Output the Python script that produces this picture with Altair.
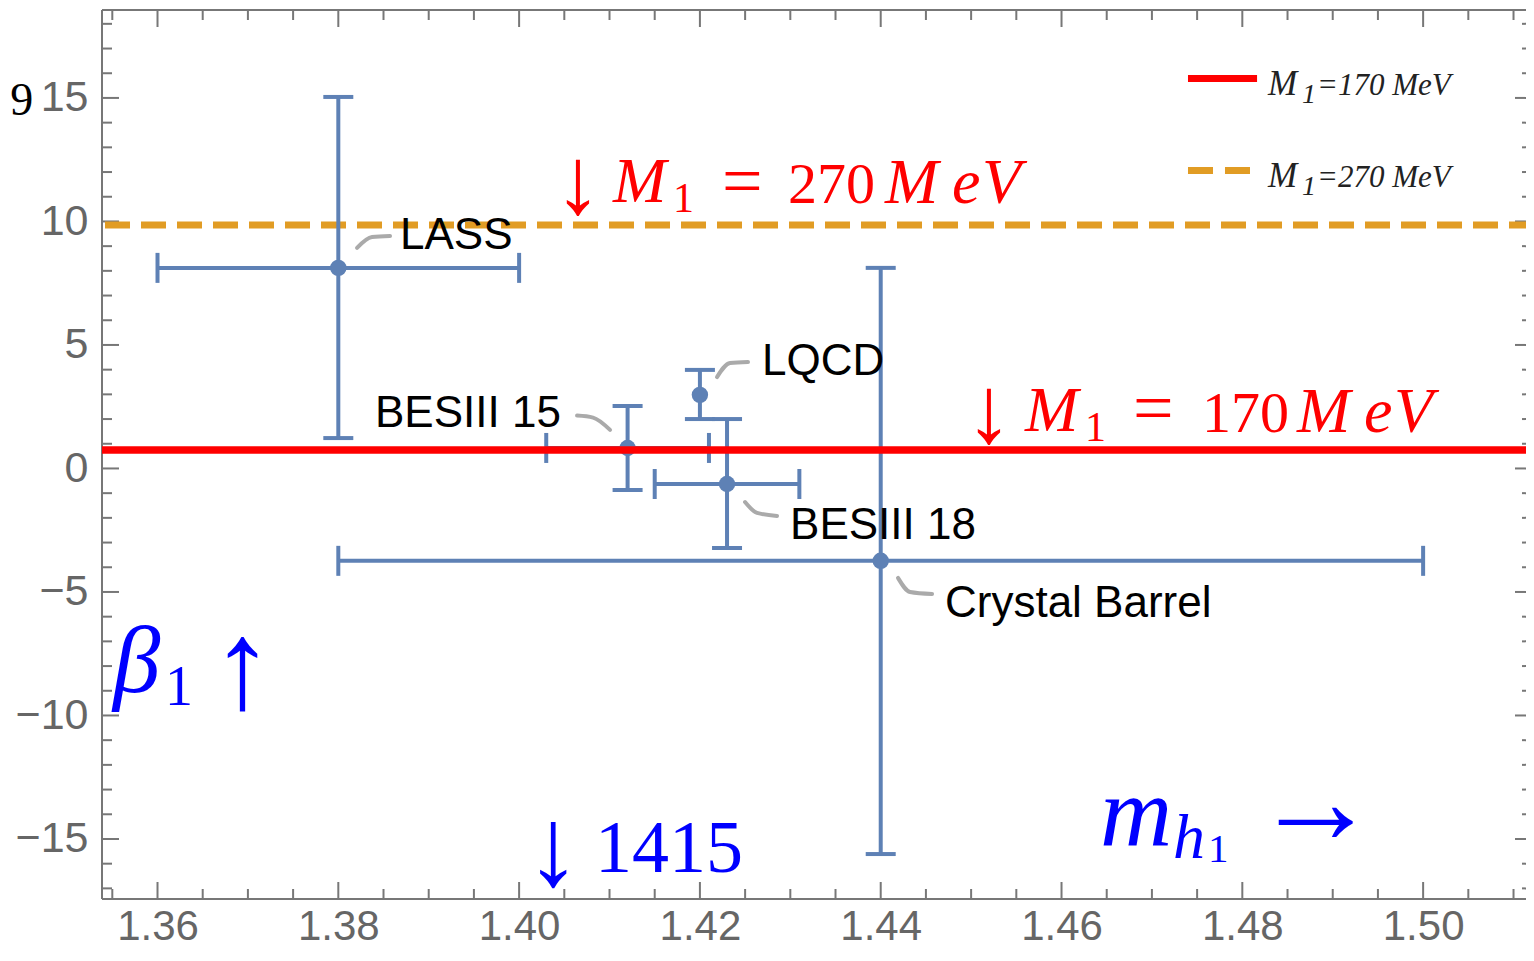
import altair as alt
import pandas as pd

# ---------------- data ----------------
labels = ["LASS", "BESIII 15", "LQCD", "BESIII 18", "Crystal Barrel"]
mass = [1.380, 1.412, 1.420, 1.423, 1.440]
mass_lo = [1.360, 1.403, None, 1.415, 1.380]
mass_hi = [1.400, 1.421, None, 1.431, 1.500]
beta = [8.12, 0.83, 2.98, -0.63, -3.74]
beta_lo = [1.23, -0.87, 2.00, -3.22, -15.61]
beta_hi = [15.04, 2.53, 3.99, 2.00, 8.12]

m170_level = [0.75]
m270_level = [9.86]

x_major = [1.36, 1.38, 1.40, 1.42, 1.44, 1.46, 1.48, 1.50]
x_minor = [1.355, 1.365, 1.370, 1.375, 1.385, 1.390, 1.395, 1.405, 1.410,
           1.415, 1.425, 1.430, 1.435, 1.445, 1.450, 1.455, 1.465, 1.470,
           1.475, 1.485, 1.490, 1.495, 1.505, 1.510]
y_major = [-15, -10, -5, 0, 5, 10, 15]
y_minor = [-17, -16, -14, -13, -12, -11, -9, -8, -7, -6, -4, -3, -2, -1,
           1, 2, 3, 4, 6, 7, 8, 9, 11, 12, 13, 14, 16, 17, 18]

# callout labels (left edge, baseline) in data units
callout_text = ["LASS", "LQCD", "BESIII 15", "BESIII 18", "Crystal Barrel"]
callout_x = [1.38683, 1.42687, 1.38406, 1.42997, 1.44711]
callout_y = [8.89, 3.79, 1.68, -2.85, -6.01]

# leader lines (3 points each)
leader_id = ["LASS"] * 3 + ["LQCD"] * 3 + ["B15"] * 3 + ["B18"] * 3 + ["CB"] * 3
leader_ord = [0, 1, 2] * 5
leader_x = [1.38207, 1.38373, 1.38572,
            1.42189, 1.42333, 1.42532,
            1.40641, 1.40818, 1.41006,
            1.42499, 1.42632, 1.42853,
            1.44191, 1.44324, 1.44568]
leader_y = [8.93, 9.37, 9.41,
            3.70, 4.27, 4.31,
            2.14, 2.06, 1.56,
            -1.36, -1.80, -1.92,
            -4.43, -5.00, -5.08]

# math annotations: text, x, y (left/baseline), font size, colour, italic?
ann_text = ["\u2193", "M", "1", "=", "270", "M", "e", "V",
            "\u2193", "M", "1", "=", "170", "M", "e", "V",
            "\u03b2", "1", "\u2191",
            "\u2193", "1415",
            "m", "h", "1", "\u2192",
            "9"]
ann_x = [1.40386, 1.41039, 1.41702, 1.42244, 1.42975, 1.44048, 1.44789, 1.45121,
         1.44933, 1.45596, 1.46260, 1.46791, 1.47554, 1.48605, 1.49346, 1.49678,
         1.35508, 1.36083, 1.36592,
         1.40065, 1.40840,
         1.46426, 1.47232, 1.47621, 1.48118,
         1.34372]
ann_y = [10.34, 10.79, 10.38, 10.67, 10.75, 10.75, 10.75, 10.75,
         1.07, 1.52, 1.11, 1.48, 1.48, 1.48, 1.48, 1.48,
         -9.05, -9.575, -9.70,
         -16.86, -16.34,
         -15.24, -15.77, -15.93, -15.16,
         14.31]
ann_size = [95, 64, 42, 72, 58, 64, 64, 64,
            95, 64, 42, 72, 58, 64, 64, 64,
            95, 56, 126,
            112, 74,
            100, 64, 41, 125,
            46]
ann_color = ["#ff0000"] * 16 + ["#0000ff"] * 9 + ["#000000"]
ann_italic = [False, True, False, False, False, True, True, True,
              False, True, False, False, False, True, True, True,
              True, False, False,
              False, False,
              True, True, False, False,
              False]

# legend
leg_line_x = [1.47399]
leg_line_x2 = [1.48163]
leg_red_y = [15.79]
leg_orange_y = [12.06]
leg_text = ["M", "1", "=170 MeV", "M", "1", "=270 MeV"]
leg_x = [1.48284, 1.48660, 1.48826, 1.48284, 1.48660, 1.48826]
leg_y = [15.12, 14.80, 15.12, 11.40, 11.07, 11.40]
leg_size = [35, 28, 31, 35, 28, 31]

# ---------------- layout ----------------
W, H = 1424, 889
BLUE = "#5E81B5"
ORANGE = "#E19C24"
FRAME = "#777777"

xs = alt.Scale(domain=[1.35386, 1.51138], nice=False, zero=False)
ys = alt.Scale(domain=[-17.43, 18.56], nice=False, zero=False)

xaxis = alt.Axis(values=x_major, format=".2f", tickSize=0, domain=False, grid=False,
                 labelFont="Liberation Sans", labelFontSize=42, labelColor="#666666",
                 labelPadding=7, labelOverlap=False, labelFlush=False, labelBound=False,
                 title=None)
yaxis = alt.Axis(values=y_major, tickSize=0, domain=False, grid=False,
                 labelFont="Liberation Sans", labelFontSize=43, labelColor="#666666",
                 labelPadding=14, labelOverlap=False, labelFlush=False, labelBound=False,
                 title=None)


def X(f):
    return alt.X(f, type="quantitative", scale=xs, axis=xaxis)


def Y(f):
    return alt.Y(f, type="quantitative", scale=ys, axis=yaxis)


pts = pd.DataFrame({"label": labels, "m": mass, "mlo": mass_lo, "mhi": mass_hi,
                    "b": beta, "blo": beta_lo, "bhi": beta_hi})
pts_x = pts.dropna(subset=["mlo", "mhi"])

tx_major = pd.DataFrame({"v": x_major})
tx_minor = pd.DataFrame({"v": x_minor})
ty_major = pd.DataFrame({"v": y_major})
ty_minor = pd.DataFrame({"v": y_minor})
one = pd.DataFrame({"a": [0]})

tick_layers = []
for df, ln in ((tx_major, 17), (tx_minor, 10)):
    tick_layers.append(alt.Chart(df).mark_rule(color=FRAME, strokeWidth=2).encode(
        x=X("v"), y=alt.value(H), y2=alt.value(H - ln)))
    tick_layers.append(alt.Chart(df).mark_rule(color=FRAME, strokeWidth=2).encode(
        x=X("v"), y=alt.value(0), y2=alt.value(ln)))
for df, ln in ((ty_major, 17), (ty_minor, 10)):
    tick_layers.append(alt.Chart(df).mark_rule(color=FRAME, strokeWidth=2).encode(
        y=Y("v"), x=alt.value(0), x2=alt.value(ln)))
    tick_layers.append(alt.Chart(df).mark_rule(color=FRAME, strokeWidth=2).encode(
        y=Y("v"), x=alt.value(W + 6 - ln), x2=alt.value(W + 6)))

frame = [
    alt.Chart(one).mark_rule(color=FRAME, strokeWidth=2).encode(
        x=alt.value(0), y=alt.value(0), y2=alt.value(H)),
    alt.Chart(one).mark_rule(color=FRAME, strokeWidth=2).encode(
        y=alt.value(0), x=alt.value(0), x2=alt.value(W)),
    alt.Chart(one).mark_rule(color=FRAME, strokeWidth=2).encode(
        y=alt.value(H), x=alt.value(0), x2=alt.value(W)),
]

orange_line = alt.Chart(pd.DataFrame({"v": m270_level})).mark_rule(
    color=ORANGE, strokeWidth=7, strokeDash=[25, 11], strokeDashOffset=8).encode(y=Y("v"))
red_line = alt.Chart(pd.DataFrame({"v": m170_level})).mark_rule(
    color="#ff0000", strokeWidth=7.5).encode(y=Y("v"))

BW = 4
ybars = alt.Chart(pts).mark_rule(color=BLUE, strokeWidth=BW).encode(
    x=X("m"), y=Y("blo"), y2="bhi")
xbars = alt.Chart(pts_x).mark_rule(color=BLUE, strokeWidth=BW).encode(
    y=Y("b"), x=X("mlo"), x2="mhi")
cap = dict(color=BLUE, size=30, thickness=BW, opacity=1)
ycap_lo = alt.Chart(pts).mark_tick(orient="horizontal", **cap).encode(x=X("m"), y=Y("blo"))
ycap_hi = alt.Chart(pts).mark_tick(orient="horizontal", **cap).encode(x=X("m"), y=Y("bhi"))
xcap_lo = alt.Chart(pts_x).mark_tick(orient="vertical", **cap).encode(x=X("mlo"), y=Y("b"))
xcap_hi = alt.Chart(pts_x).mark_tick(orient="vertical", **cap).encode(x=X("mhi"), y=Y("b"))
points = alt.Chart(pts).mark_point(filled=True, color=BLUE, opacity=1, size=270, shape="circle").encode(
    x=X("m"), y=Y("b"))

leaders = alt.Chart(pd.DataFrame({"id": leader_id, "o": leader_ord, "x": leader_x, "y": leader_y})).mark_line(
    color="#aaaaaa", strokeWidth=4, strokeCap="round", interpolate="monotone").encode(
    x=X("x"), y=Y("y"), detail="id:N", order="o:Q")

callouts = alt.Chart(pd.DataFrame({"t": callout_text, "x": callout_x, "y": callout_y})).mark_text(
    align="left", baseline="alphabetic", font="Liberation Sans", fontSize=44, color="#000000").encode(
    x=X("x"), y=Y("y"), text="t:N")

ann = pd.DataFrame({"t": ann_text, "x": ann_x, "y": ann_y, "s": ann_size,
                    "c": ann_color, "it": ann_italic})
ann_rm = alt.Chart(ann[~ann["it"]]).mark_text(
    align="left", baseline="alphabetic", font="Liberation Serif").encode(
    x=X("x"), y=Y("y"), text="t:N", size=alt.Size("s:Q", scale=None),
    color=alt.Color("c:N", scale=None))
ann_it = alt.Chart(ann[ann["it"]]).mark_text(
    align="left", baseline="alphabetic", font="Liberation Serif", fontStyle="italic").encode(
    x=X("x"), y=Y("y"), text="t:N", size=alt.Size("s:Q", scale=None),
    color=alt.Color("c:N", scale=None))

leg_red = alt.Chart(pd.DataFrame({"x": leg_line_x, "x2": leg_line_x2, "y": leg_red_y})).mark_rule(
    color="#ff0000", strokeWidth=7).encode(x=X("x"), x2="x2", y=Y("y"))
leg_orange = alt.Chart(pd.DataFrame({"x": leg_line_x, "x2": leg_line_x2, "y": leg_orange_y})).mark_rule(
    color=ORANGE, strokeWidth=7, strokeDash=[25, 12]).encode(x=X("x"), x2="x2", y=Y("y"))
leg_txt = alt.Chart(pd.DataFrame({"t": leg_text, "x": leg_x, "y": leg_y, "s": leg_size})).mark_text(
    align="left", baseline="alphabetic", font="Liberation Serif", fontStyle="italic", color="#222222").encode(
    x=X("x"), y=Y("y"), text="t:N", size=alt.Size("s:Q", scale=None))

chart = alt.layer(
    *tick_layers, *frame, orange_line,
    ybars, xbars, ycap_lo, ycap_hi, xcap_lo, xcap_hi, points,
    red_line, leaders, callouts, ann_rm, ann_it, leg_red, leg_orange, leg_txt
).properties(
    width=W, height=H,
    padding={"left": 94, "top": 2, "right": 0, "bottom": 51},
    autosize=alt.AutoSizeParams(type="none"),
    background="white",
).configure_view(stroke=None)

chart.save("out.html", embed_options={"renderer": "svg", "actions": False})
